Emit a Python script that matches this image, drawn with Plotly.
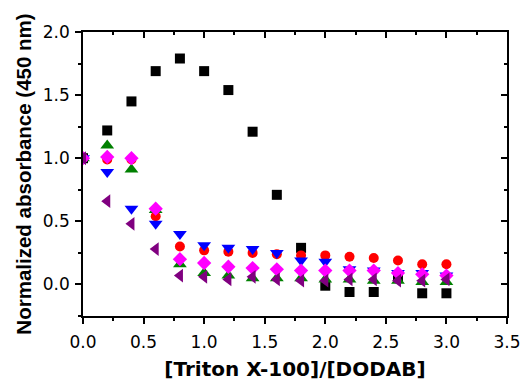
import plotly.graph_objects as go

x_vals = [0.0, 0.2, 0.4, 0.6, 0.8, 1.0, 1.2, 1.4, 1.6, 1.8, 2.0, 2.2, 2.4, 2.6, 2.8, 3.0]

black_sq = [1.0, 1.22, 1.45, 1.69, 1.79, 1.69, 1.54, 1.21, 0.71, 0.29, -0.01, -0.06, -0.06, 0.06, -0.07, -0.07]
red_circ = [1.0, 0.99, 0.99, 0.54, 0.30, 0.27, 0.26, 0.25, 0.24, 0.23, 0.23, 0.22, 0.21, 0.19, 0.16, 0.16]
green_up = [1.0, 1.10, 0.91, 0.59, 0.16, 0.09, 0.07, 0.05, 0.05, 0.05, 0.04, 0.04, 0.03, 0.03, 0.02, 0.02]
blue_down = [1.0, 0.89, 0.60, 0.48, 0.40, 0.31, 0.29, 0.28, 0.25, 0.19, 0.18, 0.12, 0.11, 0.09, 0.09, 0.07]
magenta_dia = [1.0, 1.01, 1.0, 0.60, 0.20, 0.17, 0.14, 0.13, 0.12, 0.11, 0.11, 0.11, 0.11, 0.09, 0.08, 0.07]
purple_left = [1.0, 0.66, 0.48, 0.28, 0.07, 0.06, 0.04, 0.06, 0.04, 0.03, 0.03, 0.04, 0.04, 0.03, 0.03, 0.04]

series = [
    (black_sq, "square", "#000000", 10),
    (red_circ, "circle", "#FF0000", 10),
    (green_up, "triangle-up", "#008000", 12),
    (blue_down, "triangle-down", "#0000FF", 12),
    (magenta_dia, "diamond", "#FF00FF", 11),
    (purple_left, "triangle-left", "#800080", 12),
]

fig = go.Figure()
for ys, sym, col, sz in series:
    fig.add_trace(go.Scatter(x=x_vals, y=ys, mode="markers",
                             marker=dict(symbol=sym, color=col, size=sz, line=dict(width=0)),
                             showlegend=False))

font_tick = dict(family="DejaVu Sans, Arial, sans-serif", size=17, color="black")
font_xtitle = dict(family="DejaVu Sans, Arial, sans-serif", size=20, color="black")
font_ytitle = dict(family="Liberation Sans, Arial, sans-serif", size=20.5, color="black")

common = dict(showgrid=False, zeroline=False, showline=True, linecolor="black", linewidth=1.5,
              tickwidth=1.5, tickcolor="black", dtick=0.5, tick0=0, automargin=False)

fig.update_layout(
    width=523, height=381,
    margin=dict(l=83, r=16, t=32, b=65),
    plot_bgcolor="white", paper_bgcolor="white",
    xaxis=dict(range=[0, 3.5], tickformat=".1f", ticks="outside", ticklen=6,
               minor=dict(dtick=0.25, ticks="outside", ticklen=3, tickwidth=1.5, tickcolor="black"),
               tickfont=font_tick, ticklabelstandoff=4,
               title=dict(text="<b>[Triton X-100]/[DODAB]</b>", font=font_xtitle, standoff=11),
               **common),
    yaxis=dict(range=[-0.25, 2.0], tickformat=".1f", ticks="outside", ticklen=6,
               minor=dict(dtick=0.25, ticks="outside", ticklen=3, tickwidth=1.5, tickcolor="black"),
               tickfont=font_tick, ticklabelstandoff=2,
               title=dict(text="<b>Normalized absorbance (450 nm)</b>", font=font_ytitle, standoff=6),
               **common),
    xaxis2=dict(range=[0, 3.5], overlaying="x", side="top", ticks="inside", ticklen=6,
                minor=dict(dtick=0.25, ticks="inside", ticklen=3, tickwidth=1.5, tickcolor="black"),
                showticklabels=False, **common),
    yaxis2=dict(range=[-0.25, 2.0], overlaying="y", side="right", ticks="inside", ticklen=6,
                minor=dict(dtick=0.25, ticks="inside", ticklen=3, tickwidth=1.5, tickcolor="black"),
                showticklabels=False, **common),
)
fig.add_trace(go.Scatter(x=[None], y=[None], xaxis="x2", yaxis="y2", showlegend=False, hoverinfo="skip"))

fig.write_html("out.html")
